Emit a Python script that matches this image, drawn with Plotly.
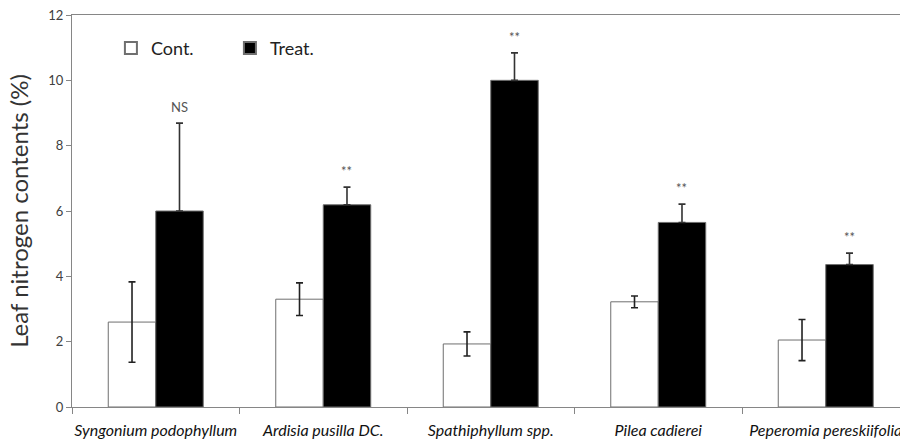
import plotly.graph_objects as go

categories = ["Syngonium podophyllum", "Ardisia pusilla DC.", "Spathiphyllum spp.",
              "Pilea cadierei", "Peperomia pereskiifolia"]
cont_vals = [2.6, 3.3, 1.93, 3.22, 2.05]
cont_err = [1.23, 0.5, 0.37, 0.18, 0.63]
treat_vals = [6.0, 6.19, 10.0, 5.65, 4.36]
treat_err = [2.69, 0.54, 0.84, 0.56, 0.35]
sig_labels = ["NS", "**", "**", "**", "**"]
y_ticks = [0, 2, 4, 6, 8, 10, 12]

FONT = "Lato, 'Open Sans', sans-serif"
BARGAP = 0.433

fig = go.Figure()
fig.add_trace(go.Bar(
    name="Cont.", x=categories, y=cont_vals,
    marker=dict(color="white", line=dict(color="#6f6f6f", width=1)),
    error_y=dict(type="data", array=cont_err, symmetric=True,
                 color="#222222", thickness=1.6, width=3.5),
))
fig.add_trace(go.Bar(
    name="Treat.", x=categories, y=treat_vals,
    marker=dict(color="black", line=dict(color="#6f6f6f", width=1)),
    error_y=dict(type="data", array=treat_err, arrayminus=[0] * len(treat_err),
                 symmetric=False, color="#333333", thickness=1.6, width=3.5),
))

# significance labels above the treated bars
bar_w = (1 - BARGAP) / 2
for i, (lab, v, e) in enumerate(zip(sig_labels, treat_vals, treat_err)):
    fig.add_annotation(
        x=i + bar_w / 2, y=v + e, xref="x", yref="y",
        text=lab, showarrow=False, yanchor="bottom", yshift=6,
        font=dict(family=FONT, size=13, color="#555555"),
    )

n = len(categories)
visible_frac = (900 - 72) / (909.5 - 72)
fig.update_layout(
    width=900, height=439,
    margin=dict(l=72, r=0, t=15, b=32, pad=0),
    paper_bgcolor="white", plot_bgcolor="white",
    barmode="group", bargap=BARGAP, bargroupgap=0,
    font=dict(family=FONT, color="#404040"),
    showlegend=True,
    legend=dict(orientation="h", x=0.047, y=0.962, xanchor="left", yanchor="top",
                font=dict(family=FONT, size=18, color="#222222"),
                bgcolor="rgba(0,0,0,0)", entrywidth=74, entrywidthmode="pixels",
                itemsizing="constant"),
    xaxis=dict(
        type="category", automargin=False,
        range=[-0.5, -0.5 + n * visible_frac],
        tickmode="array", tickvals=categories,
        ticktext=["<i>" + c + "</i>" for c in categories],
        tickangle=0, ticklabelstandoff=9,
        tickson="boundaries", ticks="outside", ticklen=6, tickcolor="#868686",
        showline=True, linecolor="#868686", linewidth=1.2, mirror=True,
        showgrid=False, zeroline=False,
        tickfont=dict(family=FONT, size=16, color="#111111"),
    ),
    yaxis=dict(
        automargin=False,
        range=[0, 12], tickvals=y_ticks,
        ticks="outside", ticklen=5, tickcolor="#868686",
        showline=True, linecolor="#868686", linewidth=1.2,
        showgrid=False, zeroline=False,
        tickfont=dict(family=FONT, size=13, color="#404040"),
        title=dict(text="Leaf nitrogen contents (%)", standoff=12,
                   font=dict(family=FONT, size=24, color="#333333")),
    ),
)

fig.write_html(
    "out.html",
    config={"displayModeBar": False},
    post_script="document.body.style.margin='0';document.body.style.overflow='hidden';",
)
